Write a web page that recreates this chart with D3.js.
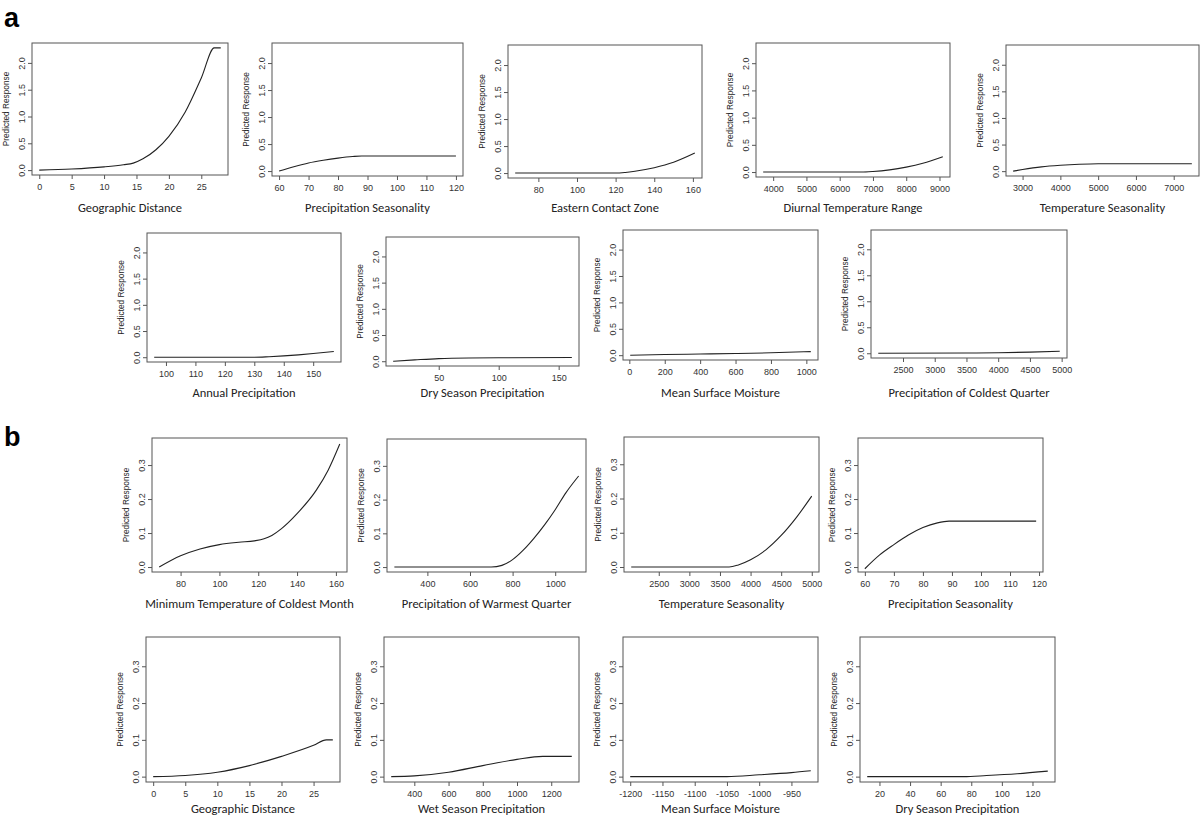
<!DOCTYPE html>
<html>
<head>
<meta charset="utf-8">
<script src="https://cdn.jsdelivr.net/npm/d3@7"></script>
<style>
body { margin: 0; background: #fff; }
</style>
</head>
<body>
<svg id="fig" width="1200" height="816"></svg>
<script>
// ---- data ----
const panelTitles = [
  "Geographic Distance", "Precipitation Seasonality", "Eastern Contact Zone",
  "Diurnal Temperature Range", "Temperature Seasonality",
  "Annual Precipitation", "Dry Season Precipitation", "Mean Surface Moisture",
  "Precipitation of Coldest Quarter",
  "Minimum Temperature of Coldest Month", "Precipitation of Warmest Quarter",
  "Temperature Seasonality", "Precipitation Seasonality",
  "Geographic Distance", "Wet Season Precipitation", "Mean Surface Moisture",
  "Dry Season Precipitation"
];

const xTickValues = [
  [0, 5, 10, 15, 20, 25],
  [60, 70, 80, 90, 100, 110, 120],
  [80, 100, 120, 140, 160],
  [4000, 5000, 6000, 7000, 8000, 9000],
  [3000, 4000, 5000, 6000, 7000],
  [100, 110, 120, 130, 140, 150],
  [50, 100, 150],
  [0, 200, 400, 600, 800, 1000],
  [2500, 3000, 3500, 4000, 4500, 5000],
  [80, 100, 120, 140, 160],
  [400, 600, 800, 1000],
  [2500, 3000, 3500, 4000, 4500, 5000],
  [60, 70, 80, 90, 100, 110, 120],
  [0, 5, 10, 15, 20, 25],
  [400, 600, 800, 1000, 1200],
  [-1200, -1150, -1100, -1050, -1000, -950],
  [20, 40, 60, 80, 100, 120]
];

const yTicksA = [0, 0.5, 1.0, 1.5, 2.0];
const yTicksB = [0, 0.1, 0.2, 0.3];
const yRangeA = [0, 2.28];
const yRangeB = [0, 0.365];

// predicted response curves, [x, y]
const responseCurves = [
  [[0,0],[5,0.02],[10,0.06],[13,0.1],[14.5,0.13],[16,0.21],[18,0.38],[20,0.63],[22.5,1.08],[25,1.72],[27,2.28],[28,2.28]],
  [[60,0],[65,0.08],[70,0.15],[75,0.2],[80,0.24],[85,0.27],[88,0.28],[120,0.28]],
  [[68,0],[120,0],[125,0.012],[130,0.035],[140,0.1],[150,0.2],[161,0.37]],
  [[3700,0],[6650,0],[7000,0.01],[7500,0.04],[8000,0.09],[8500,0.16],[9100,0.28]],
  [[2750,0],[3000,0.03],[3500,0.08],[4000,0.11],[4500,0.13],[5000,0.14],[7480,0.14]],
  [[96,0],[130,0],[135,0.01],[140,0.025],[145,0.045],[150,0.07],[157,0.11]],
  [[12,0],[30,0.025],[50,0.05],[75,0.062],[100,0.065],[161,0.07]],
  [[5,0],[200,0.012],[400,0.022],[600,0.032],[800,0.045],[1025,0.068]],
  [[2110,0],[3500,0.004],[4000,0.01],[4500,0.022],[4970,0.04]],
  [[69,0],[80,0.033],[90,0.053],[100,0.066],[110,0.073],[118,0.077],[123,0.083],[127,0.093],[132,0.113],[140,0.157],[150,0.227],[156,0.285],[162,0.362]],
  [[245,0],[700,0],[750,0.005],[800,0.022],[850,0.05],[900,0.085],[950,0.125],[1000,0.17],[1050,0.22],[1110,0.27]],
  [[2050,0],[3650,0],[3800,0.006],[4000,0.021],[4250,0.05],[4500,0.092],[4750,0.145],[5000,0.207]],
  [[60,-0.005],[65,0.035],[70,0.066],[75,0.094],[80,0.116],[85,0.13],[89,0.135],[119,0.135]],
  [[0,0],[5,0.003],[10,0.012],[15,0.03],[20,0.055],[25,0.085],[27,0.1],[28,0.1]],
  [[265,0],[400,0.002],[600,0.012],[800,0.03],[1000,0.047],[1150,0.055],[1320,0.055]],
  [[-1200,0],[-1050,0],[-1000,0.005],[-950,0.011],[-920,0.016]],
  [[12,0],[75,0],[90,0.003],[110,0.008],[130,0.015]]
];

// ---- layout (left, top, right, bottom of each plot box) ----
const boxes = [
  [32,43,228,175],[272,43,463,176],[508,45,702,178],[756,43,950,177],[1006,45,1199,176],
  [147,233,341,362],[386,237,579,366],[623,230,818,360],[871,230,1067,358],
  [152,438,347,572],[387,439,586,572],[624,437,819,572],[858,438,1043,572],
  [146,637,340,782],[384,637,579,782],[623,637,818,782],[860,637,1055,782]
];
const titleBaseline = [212,212,212,212,212, 397,397,397,397, 608,608,608,608, 813,813,813,813];

const svg = d3.select("#fig");

// R style: pad the data range by 4% on each side
function padded(ext) {
  const d = (ext[1] - ext[0]) * 0.04;
  return [ext[0] - d, ext[1] + d];
}

const tickFont = "'Liberation Sans', Arial, sans-serif";
const titleFont = "Carlito, Calibri, Lato, 'Open Sans', sans-serif";

responseCurves.forEach(function(pts, i) {
  const [l, t, r, b] = boxes[i];
  const isA = i < 9;
  const x = d3.scaleLinear().domain(padded(d3.extent(pts, d => d[0]))).range([l, r]);
  const y = d3.scaleLinear().domain(padded(isA ? yRangeA : yRangeB)).range([b, t]);
  const g = svg.append("g");

  // x axis
  const xa = g.append("g").attr("transform", "translate(0," + b + ")")
    .call(d3.axisBottom(x).tickValues(xTickValues[i]).tickSize(4).tickSizeOuter(0)
      .tickFormat(d => String(d)));
  xa.select(".domain").remove();
  xa.selectAll("line").attr("stroke", "#555");
  xa.selectAll("text").attr("y", 8.5).style("font-family", tickFont).style("font-size", "9px").attr("fill", "#333");

  // y axis, labels turned like R
  const ya = g.append("g").attr("transform", "translate(" + l + ",0)")
    .call(d3.axisLeft(y).tickValues(isA ? yTicksA : yTicksB).tickSize(4).tickSizeOuter(0)
      .tickFormat(d3.format(".1f")));
  ya.select(".domain").remove();
  ya.selectAll("line").attr("stroke", "#555");
  ya.selectAll("text")
    .attr("x", null).attr("dy", null)
    .attr("text-anchor", "middle")
    .attr("transform", "translate(-7,0) rotate(-90)")
    .style("font-family", tickFont).style("font-size", "9px").attr("fill", "#333");

  // box
  g.append("rect").attr("x", l).attr("y", t).attr("width", r - l).attr("height", b - t)
    .attr("fill", "none").attr("stroke", "#555").attr("stroke-width", 1);

  // curve
  g.append("path").datum(pts)
    .attr("d", d3.line().x(d => x(d[0])).y(d => y(d[1])).curve(d3.curveMonotoneX))
    .attr("fill", "none").attr("stroke", "#222").attr("stroke-width", 1.1);

  // labels
  g.append("text").attr("x", l - 23).attr("y", (t + b) / 2)
    .attr("transform", "rotate(-90," + (l - 23) + "," + ((t + b) / 2) + ")")
    .attr("text-anchor", "middle")
    .style("font-family", tickFont).style("font-size", "8.3px").attr("fill", "#222")
    .text("Predicted Response");

  g.append("text").attr("x", (l + r) / 2).attr("y", titleBaseline[i])
    .attr("text-anchor", "middle")
    .style("font-family", titleFont).style("font-size", "12.5px").attr("fill", "#222")
    .text(panelTitles[i]);
});

// figure part letters
svg.append("text").attr("x", 4).attr("y", 27).text("a")
  .style("font-family", tickFont).style("font-weight", "bold").style("font-size", "27px");
svg.append("text").attr("x", 4).attr("y", 446).text("b")
  .style("font-family", tickFont).style("font-weight", "bold").style("font-size", "27px");
</script>
</body>
</html>
